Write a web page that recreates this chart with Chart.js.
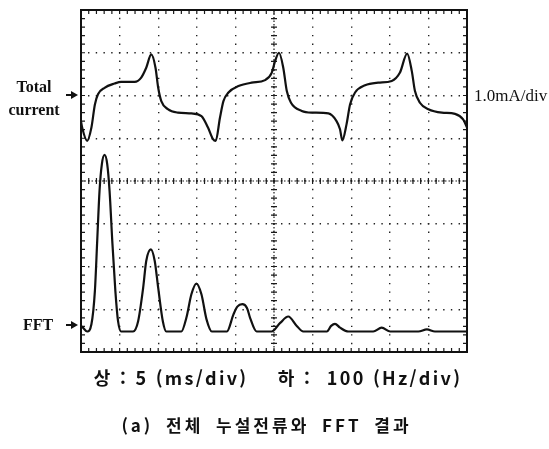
<!DOCTYPE html>
<html lang="ko">
<head>
    <meta charset="UTF-8">
    <title>전체 누설전류와 FFT 결과</title>
    <script src="https://cdn.jsdelivr.net/npm/chart.js"></script>
    <style>
        html, body {
            margin: 0;
            background: #fff;
        }

        .wrap {
            position: relative;
            width: 549px;
            height: 449px;
            overflow: hidden;
        }

        #scope {
            position: absolute;
            left: 0;
            top: 0;
        }

        .serif {
            position: absolute;
            font-family: "Liberation Serif", "Times New Roman", serif;
            color: #111;
            white-space: nowrap;
        }

        .side {
            font-weight: bold;
            font-size: 16px;
            line-height: 23px;
            text-align: center;
        }

        .arrow {
            position: absolute;
            width: 12px;
            height: 8px;
        }
        .arrow::before {
            content: "";
            position: absolute;
            left: 0;
            top: 3px;
            width: 6px;
            height: 2px;
            background: #111;
        }
        .arrow::after {
            content: "";
            position: absolute;
            left: 5px;
            top: 0;
            border-left: 7px solid #111;
            border-top: 4px solid transparent;
            border-bottom: 4px solid transparent;
        }

        .caption {
            position: absolute;
            font-family: "Noto Sans CJK KR", sans-serif;
            font-weight: bold;
            color: #111;
            white-space: pre;
            text-align: center;
        }
    </style>
</head>
<body>
<div class="wrap">
    <canvas id="scope" width="549" height="449"></canvas>

    <div class="serif side" style="left:4px; top:75px; width:60px;">Total<br>current</div>
    <div class="arrow" style="left:66px; top:91px;"></div>
    <div class="serif" style="left:474px; top:88px; font-size:17px; line-height:16px;">1.0mA/div</div>

    <div class="serif side" style="left:8px; top:313px; width:60px;">FFT</div>
    <div class="arrow" style="left:66px; top:321px;"></div>

    <div class="caption" style="left:0; width:556px; top:365px; font-size:18px; line-height:24px; letter-spacing:2.3px;">상 : 5 (ms/div)    하 :  100 (Hz/div)</div>
    <div class="caption" style="left:0; width:533px; top:413px; font-size:17px; line-height:24px; letter-spacing:3px; word-spacing:5px;">(a) 전체 누설전류와 FFT 결과</div>
</div>

<script>
    // screen is 10 x 8 divisions, values below are in divisions (0 = centre line)
    // top trace: 5 ms/div, 1.0 mA/div
    const currentT = [0.00, 0.03, 0.16, 0.27, 0.36, 0.44, 0.61, 0.87, 1.04, 1.39, 1.56, 1.69, 1.82, 1.93, 2.00, 2.08,
        2.25, 2.51, 2.86, 3.12, 3.29, 3.42, 3.49, 3.60, 3.69, 3.82, 4.08, 4.42, 4.77, 4.94, 5.03, 5.13,
        5.24, 5.33, 5.44, 5.72, 5.98, 6.41, 6.62, 6.71, 6.77, 6.88, 6.97, 7.10, 7.36, 7.70, 8.05, 8.26,
        8.45, 8.57, 8.65, 8.78, 9.00, 9.35, 9.69, 9.90, 10.00];
    const currentV = [1.40, 1.25, 0.94, 1.25, 1.79, 2.03, 2.18, 2.28, 2.32, 2.32, 2.42, 2.65, 2.96, 2.65, 2.18, 1.87,
        1.68, 1.60, 1.58, 1.52, 1.25, 0.98, 0.94, 1.48, 1.87, 2.07, 2.22, 2.30, 2.36, 2.53, 2.81, 3.00,
        2.65, 2.11, 1.83, 1.64, 1.60, 1.58, 1.40, 1.21, 0.95, 1.33, 1.79, 2.07, 2.24, 2.30, 2.34, 2.53,
        2.98, 2.57, 2.11, 1.83, 1.68, 1.60, 1.57, 1.44, 1.25];

    // bottom trace: 100 Hz/div
    const fftF = [0.00, 0.05, 0.16, 0.27, 0.36, 0.42, 0.48, 0.54, 0.61, 0.68, 0.74, 0.81, 0.89, 0.96, 1.04,
        1.35, 1.48, 1.61, 1.69, 1.81, 1.91, 2.00, 2.12, 2.21,
        2.60, 2.73, 2.86, 2.99, 3.12, 3.25, 3.39,
        3.78, 3.95, 4.05, 4.18, 4.30, 4.38, 4.55,
        4.94, 5.16, 5.37, 5.59, 5.76,
        6.37, 6.48, 6.58, 6.71, 6.93,
        7.57, 7.79, 8.01,
        8.74, 8.96, 9.17, 10.00];
    const fftA = [-3.39, -3.43, -3.52, -3.35, -2.57, -1.40, -0.23, 0.39, 0.61, 0.39, -0.23, -1.40, -2.57, -3.28, -3.52,
        -3.52, -3.28, -2.50, -1.87, -1.60, -1.87, -2.50, -3.28, -3.52,
        -3.52, -3.20, -2.65, -2.40, -2.65, -3.23, -3.52,
        -3.52, -3.12, -2.94, -2.88, -2.97, -3.20, -3.52,
        -3.52, -3.32, -3.17, -3.39, -3.52,
        -3.52, -3.39, -3.34, -3.43, -3.52,
        -3.52, -3.43, -3.52,
        -3.52, -3.47, -3.52, -3.52];

    const xDivs = 10;
    const yDivs = 8;

    const toPoints = (xs, ys) => xs.map((x, i) => ({ x: x, y: ys[i] }));

    // frame, centre cross and the small tick marks of the scope graticule
    const graticule = {
        id: 'graticule',
        beforeDatasetsDraw(chart) {
            const { ctx, chartArea: a, scales: { x, y } } = chart;
            const cx = x.getPixelForValue(xDivs / 2);
            const cy = y.getPixelForValue(0);
            ctx.save();
            ctx.strokeStyle = '#1a1a1a';

            // centre lines
            ctx.lineWidth = 1.2;
            ctx.setLineDash([1.5, 2]);
            ctx.beginPath();
            ctx.moveTo(a.left, cy); ctx.lineTo(a.right, cy);
            ctx.moveTo(cx, a.top); ctx.lineTo(cx, a.bottom);
            ctx.stroke();
            ctx.setLineDash([]);

            // minor ticks, 5 per division
            ctx.lineWidth = 1.2;
            ctx.beginPath();
            for (let i = 0; i <= xDivs * 5; i++) {
                const px = x.getPixelForValue(i / 5);
                ctx.moveTo(px, a.top); ctx.lineTo(px, a.top + 4);
                ctx.moveTo(px, a.bottom); ctx.lineTo(px, a.bottom - 4);
                ctx.moveTo(px, cy - 3); ctx.lineTo(px, cy + 3);
            }
            for (let j = 0; j <= yDivs * 5; j++) {
                const py = y.getPixelForValue(-yDivs / 2 + j / 5);
                ctx.moveTo(a.left, py); ctx.lineTo(a.left + 4, py);
                ctx.moveTo(a.right, py); ctx.lineTo(a.right - 4, py);
                ctx.moveTo(cx - 3, py); ctx.lineTo(cx + 3, py);
            }
            ctx.stroke();

            // outer frame
            ctx.lineWidth = 2;
            ctx.strokeStyle = '#111';
            ctx.strokeRect(a.left, a.top, a.right - a.left, a.bottom - a.top);
            ctx.restore();
        }
    };

    const lineStyle = {
        borderColor: '#111',
        borderWidth: 2.2,
        pointRadius: 0,
        cubicInterpolationMode: 'monotone',
        fill: false
    };

    new Chart(document.getElementById('scope'), {
        type: 'line',
        data: {
            datasets: [
                Object.assign({ label: 'Total current', data: toPoints(currentT, currentV) }, lineStyle),
                Object.assign({ label: 'FFT', data: toPoints(fftF, fftA) }, lineStyle)
            ]
        },
        options: {
            responsive: false,
            animation: false,
            devicePixelRatio: 1,
            layout: { padding: { left: 81, top: 10, right: 82, bottom: 97 } },
            plugins: { legend: { display: false }, tooltip: { enabled: false } },
            scales: {
                x: {
                    type: 'linear',
                    min: 0,
                    max: xDivs,
                    ticks: { display: false, stepSize: 1 },
                    grid: { drawTicks: false, color: '#222', lineWidth: 1.4 },
                    border: { display: false, dash: [1.4, 7.15], dashOffset: 0.7 }
                },
                y: {
                    min: -yDivs / 2,
                    max: yDivs / 2,
                    ticks: { display: false, stepSize: 1 },
                    grid: { drawTicks: false, color: '#222', lineWidth: 1.4 },
                    border: { display: false, dash: [1.4, 6.32], dashOffset: 0.7 }
                }
            }
        },
        plugins: [graticule]
    });
</script>
</body>
</html>
